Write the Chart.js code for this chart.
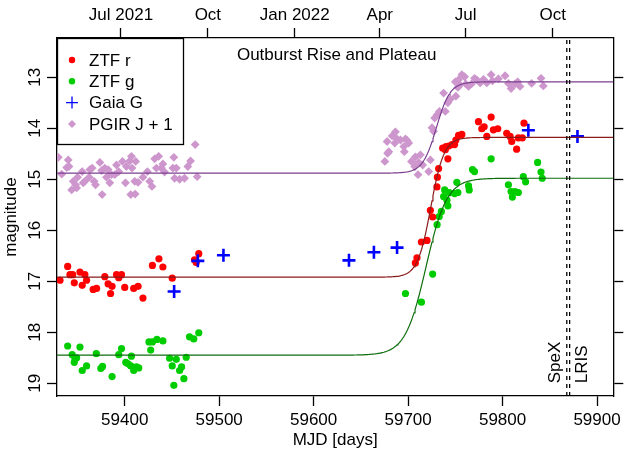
<!DOCTYPE html>
<html>
<head>
<meta charset="utf-8">
<script src="https://cdn.jsdelivr.net/npm/chart.js@4/dist/chart.umd.min.js"></script>
<style>
  html, body { margin: 0; padding: 0; background: #fff; }
  #wrap { width: 625px; height: 454px; }
</style>
</head>
<body>
<div id="wrap"><canvas id="lc" width="625" height="454"></canvas></div>
<script>
// ---- Light curve data (MJD, magnitude) ----
const ztfR_mjd = [59331.5, 59339.6, 59342.0, 59344.9, 59346.6, 59352.6, 59355.0, 59357.8, 59359.6, 59366.6,
  59370.2, 59378.9, 59382.4, 59385.0, 59386.6, 59391.3, 59393.7, 59396.6, 59400.0, 59409.5,
  59414.1, 59419.3, 59429.3, 59436.2, 59440.4, 59450.3, 59473.9, 59475.7, 59478.4,
  59707.7, 59709.4, 59714.1, 59720.0, 59723.6, 59726.0, 59730.5, 59731.0, 59732.3, 59736.6,
  59739.4, 59740.2, 59742.1, 59742.9, 59746.4, 59749.2, 59750.6, 59753.4, 59756.9,
  59774.5, 59778.0, 59780.5, 59783.3, 59787.9, 59790.3, 59794.9, 59804.4, 59808.0, 59809.7,
  59814.9, 59816.7, 59820.9, 59822.7];
const ztfR_mag = [16.98, 16.71, 16.87, 16.87, 17.03, 16.82, 17.08, 16.87, 16.98, 17.16,
  17.14, 16.91, 17.05, 17.24, 17.10, 16.87, 16.93, 16.87, 17.12, 17.14,
  17.10, 17.33, 16.69, 16.56, 16.72, 16.94, 16.58, 16.63, 16.46,
  16.64, 16.54, 16.23, 16.20, 15.61, 15.74, 15.15, 14.96, 14.79, 14.39,
  14.42, 14.36, 14.60, 14.35, 14.32, 14.32, 14.23, 14.14, 14.12,
  13.87, 14.01, 13.97, 14.16, 13.78, 14.03, 14.01, 14.10, 14.16, 14.26,
  14.41, 14.19, 14.19, 13.90];

const ztfG_mjd = [59339.6, 59344.4, 59347.3, 59349.1, 59346.6, 59352.6, 59355.0, 59359.6, 59369.9, 59374.7,
  59376.5, 59386.6, 59393.7, 59396.6, 59401.1, 59403.5, 59407.1, 59406.4, 59409.5, 59412.4,
  59414.8, 59425.7, 59427.5, 59429.3, 59434.1, 59440.4, 59447.5, 59450.3, 59452.0, 59454.6,
  59458.1, 59460.2, 59462.6, 59465.1, 59468.6, 59473.1, 59478.4,
  59697.2, 59714.1, 59726.0, 59730.7, 59732.9, 59735.2, 59737.6, 59738.7, 59741.1, 59742.1,
  59743.6, 59749.2, 59751.6, 59752.7, 59764.0, 59764.7, 59768.2, 59770.3, 59787.9, 59806.2,
  59809.0, 59810.4, 59813.2, 59816.7, 59822.0, 59824.4, 59837.1, 59840.7, 59842.0];
const ztfG_mag = [18.27, 18.44, 18.52, 18.50, 18.59, 18.29, 18.75, 18.66, 18.42, 18.71,
  18.67, 18.87, 18.44, 18.32, 18.59, 18.62, 18.47, 18.66, 18.75, 18.68,
  18.70, 18.19, 18.35, 18.19, 18.14, 18.17, 18.51, 18.66, 19.04, 18.53,
  18.75, 18.68, 18.91, 18.49, 18.09, 18.13, 18.01,
  17.24, 17.41, 16.86, 15.89, 15.73, 15.63, 15.34, 15.21, 15.41, 15.52,
  15.26, 15.28, 15.06, 15.26, 15.13, 15.21, 14.81, 14.85, 14.60, 15.11,
  15.24, 15.35, 15.24, 15.26, 14.95, 15.05, 14.67, 14.86, 14.98];

const gaia_mjd = [59452.3, 59477.4, 59504.5, 59637.4, 59663.8, 59688.3, 59827.3, 59879.3];
const gaia_mag = [17.20, 16.60, 16.49, 16.59, 16.43, 16.34, 14.04, 14.16];

// PGIR J-band magnitudes (shown offset by J_OFFSET)
const J_OFFSET = 1;
const pgir_mjd = [59329.7, 59333.3, 59338.5, 59340.2, 59341.0, 59343.8, 59345.5, 59348.0, 59349.1, 59350.1,
  59355.0, 59356.0, 59357.8, 59362.4, 59363.1, 59365.5, 59367.6, 59369.1, 59373.7, 59375.5,
  59376.1, 59378.9, 59380.7, 59382.4, 59384.2, 59386.0, 59389.5, 59391.3, 59393.7, 59397.6,
  59400.8, 59401.8, 59405.3, 59406.4, 59407.1, 59407.7, 59410.6, 59411.0, 59411.6, 59414.1,
  59419.3, 59424.0, 59426.4, 59428.8, 59431.7, 59433.5, 59435.9, 59438.7, 59440.4, 59442.2,
  59451.0, 59452.0, 59452.8, 59454.6, 59458.1, 59463.3, 59466.8, 59469.7, 59474.6, 59476.7,
  59675.4, 59677.8, 59678.3, 59679.6, 59683.1, 59685.9, 59686.6, 59688.3, 59691.9, 59695.4,
  59696.0, 59697.2, 59698.9, 59700.7, 59703.5, 59707.0, 59707.7, 59710.5, 59711.2, 59713.0,
  59715.4, 59721.8, 59723.6, 59725.3, 59727.0, 59728.1, 59730.5, 59733.1, 59737.6, 59739.4,
  59742.1, 59744.7, 59750.0, 59750.6, 59752.7, 59753.4, 59755.0, 59756.9, 59759.8, 59761.1,
  59764.0, 59767.1, 59770.3, 59772.7, 59776.3, 59779.8, 59783.3, 59787.9, 59789.3, 59795.6,
  59802.7, 59806.2, 59809.0, 59813.2, 59816.0, 59818.5, 59830.8, 59840.7, 59843.1];
const pgir_J = [13.57, 13.90, 13.77, 13.62, 13.75, 14.21, 14.04, 14.11, 14.17, 13.96,
  13.85, 14.07, 14.04, 13.96, 13.81, 13.78, 14.04, 14.11, 13.67, 13.83,
  14.30, 13.78, 13.96, 13.81, 14.07, 13.91, 13.91, 13.72, 13.85, 13.65,
  14.07, 13.75, 13.64, 14.30, 13.55, 13.78, 14.04, 14.29, 13.65, 14.06,
  13.96, 13.85, 14.04, 14.14, 13.60, 13.78, 13.55, 13.78, 13.70, 13.86,
  13.78, 13.57, 13.98, 13.78, 14.00, 13.98, 13.75, 13.64, 13.32, 13.95,
  13.65, 13.26, 13.49, 13.46, 13.15, 13.29, 13.07, 13.21, 13.23, 13.36,
  13.46, 13.21, 13.24, 13.29, 13.65, 13.75, 13.56, 13.91, 13.67, 13.52,
  13.72, 13.85, 13.62, 12.99, 13.06, 12.80, 12.74, 12.67, 12.31, 12.67,
  12.50, 12.43, 12.09, 12.37, 12.20, 12.05, 12.15, 11.95, 11.99, 12.13,
  12.18, 12.13, 12.02, 12.05, 12.11, 12.04, 12.11, 11.95, 12.07, 12.03,
  11.97, 12.12, 12.22, 12.13, 12.09, 12.18, 12.12, 12.02, 12.17];

// ---- Logistic rise fits: quiescent level, plateau level, mid-point MJD, timescale (days) ----
const fitBands   = ['ZTF r', 'ZTF g', 'PGIR J + 1'];
const fitQuiet   = [16.92, 18.45, 13.88];
const fitPlateau = [14.18, 14.98, 12.09];
const fitMid     = [59724, 59719, 59730];
const fitTau     = [7.0, 11.0, 7.3];
const fitOffset  = [0, 0, J_OFFSET];

// ---- Axes ----
const X_MIN = 59328.3, X_MAX = 59917.2;
const MAG_MIN = 12.23, MAG_MAX = 19.25;
const mjdTicks = [59400, 59500, 59600, 59700, 59800, 59900];
const magTicks = [13, 14, 15, 16, 17, 18, 19];
const monthMJD = [59396, 59488, 59580, 59670, 59761, 59853];
const monthLabels = ['Jul 2021', 'Oct', 'Jan 2022', 'Apr', 'Jul', 'Oct'];

// Spectroscopy epochs
const specMJD = [59868, 59871];
const specNames = ['SpeX', 'LRIS'];
const SPEC_LABEL_MAG = 19;

const TITLE = 'Outburst Rise and Plateau';
const FONT_FAMILY = '"Liberation Sans", Arial, Helvetica, sans-serif';
const FS = 17;

const pts = (xs, ys, off = 0) => xs.map((v, i) => ({ x: v, y: ys[i] + off }));

function fitCurve(k) {
  const out = [];
  for (let t = X_MIN; t <= X_MAX + 0.5; t += 1) {
    const f = 1 / (1 + Math.exp(-(t - fitMid[k]) / fitTau[k]));
    out.push({ x: t, y: fitQuiet[k] + (fitPlateau[k] - fitQuiet[k]) * f + fitOffset[k] });
  }
  return out;
}

const fitColors = ['#8B1A1A', '#0E6E0E', '#7B3F8F'];

const datasets = [];
fitBands.forEach((b, k) => {
  datasets.push({
    label: b + ' fit', data: fitCurve(k), showLine: true, borderColor: fitColors[k],
    borderWidth: 1.2, pointRadius: 0, tension: 0, order: 0, clip: 0
  });
});
datasets.push({
  label: 'Gaia G', data: pts(gaia_mjd, gaia_mag), pointStyle: 'cross', pointRadius: 6.5,
  pointBorderWidth: 2.6, pointBorderColor: '#0000FF', pointBackgroundColor: '#0000FF', order: 1
});
datasets.push({
  label: 'ZTF r', data: pts(ztfR_mjd, ztfR_mag), pointStyle: 'circle', pointRadius: 3.6,
  pointBorderWidth: 0, pointBackgroundColor: '#FF0000', pointBorderColor: '#FF0000', order: 2
});
datasets.push({
  label: 'ZTF g', data: pts(ztfG_mjd, ztfG_mag), pointStyle: 'circle', pointRadius: 3.6,
  pointBorderWidth: 0, pointBackgroundColor: '#00CD00', pointBorderColor: '#00CD00', order: 2
});
datasets.push({
  label: 'PGIR J + 1', data: pts(pgir_mjd, pgir_J, J_OFFSET), pointStyle: 'rectRot', pointRadius: 4.4,
  pointBorderWidth: 0, pointBackgroundColor: '#CD96CD', pointBorderColor: '#CD96CD', order: 3
});

const legendOrder = ['ZTF r', 'ZTF g', 'Gaia G', 'PGIR J + 1'];

// Spectroscopy markers, panel title and legend box
const overlay = {
  id: 'overlay',
  afterDatasetsDraw(chart) {
    const { ctx, chartArea: a, scales } = chart;
    const x = scales.x, y = scales.y;
    ctx.save();
    ctx.beginPath();
    ctx.rect(a.left, a.top, a.right - a.left, a.bottom - a.top);
    ctx.clip();
    ctx.strokeStyle = '#000';
    ctx.lineWidth = 1.3;
    ctx.setLineDash([4, 4]);
    specMJD.forEach(m => {
      const px = x.getPixelForValue(m);
      ctx.beginPath();
      ctx.moveTo(px, a.bottom);
      ctx.lineTo(px, a.top);
      ctx.stroke();
    });
    ctx.setLineDash([]);
    ctx.fillStyle = '#000';
    ctx.font = FS + 'px ' + FONT_FAMILY;
    specNames.forEach((name, i) => {
      const px = x.getPixelForValue(specMJD[i]);
      const base = i === 0 ? px - 7 : px + 17.5;
      ctx.save();
      ctx.translate(base, y.getPixelForValue(SPEC_LABEL_MAG));
      ctx.rotate(-Math.PI / 2);
      ctx.textAlign = 'left';
      ctx.textBaseline = 'alphabetic';
      ctx.fillText(name, 0, 0);
      ctx.restore();
    });
    ctx.restore();

    // title
    ctx.save();
    ctx.fillStyle = '#000';
    ctx.font = FS + 'px ' + FONT_FAMILY;
    ctx.textAlign = 'center';
    ctx.textBaseline = 'alphabetic';
    ctx.fillText(TITLE, (a.left + a.right) / 2 + 1.5, a.top + 22);
    ctx.restore();

    // legend
    ctx.save();
    const bx = a.left, by = a.top, bw = 126, bh = 106;
    ctx.fillStyle = '#fff';
    ctx.fillRect(bx, by, bw, bh);
    ctx.strokeStyle = '#000';
    ctx.lineWidth = 1.3;
    ctx.strokeRect(bx + 0.5, by + 0.5, bw, bh);
    ctx.font = FS + 'px ' + FONT_FAMILY;
    ctx.textAlign = 'left';
    ctx.textBaseline = 'middle';
    legendOrder.forEach((lab, i) => {
      const ds = chart.data.datasets.find(d => d.label === lab);
      const cy = by + 22 + i * 21.3;
      const cx = bx + 15;
      ctx.fillStyle = ds.pointBackgroundColor;
      ctx.strokeStyle = ds.pointBorderColor;
      const isCross = ds.pointStyle === 'cross';
      Chart.helpers.drawPoint(ctx, {
        pointStyle: ds.pointStyle, rotation: 0,
        radius: isCross ? 6 : ds.pointRadius - 0.4,
        borderWidth: isCross ? 1.2 : 0
      }, cx, cy);
      ctx.fillStyle = '#000';
      ctx.fillText(lab, bx + 32, cy + 1);
    });
    ctx.restore();
  }
};

const axisCommon = {
  type: 'linear',
  grid: { drawOnChartArea: false, drawTicks: true, tickLength: 10, tickColor: '#000', tickWidth: 1.3 },
  border: { display: true, color: '#000', width: 1.3 }
};

Chart.defaults.font.family = FONT_FAMILY;
Chart.defaults.font.size = FS;
Chart.defaults.color = '#000';

new Chart(document.getElementById('lc'), {
  type: 'scatter',
  data: { datasets },
  options: {
    responsive: false,
    devicePixelRatio: 1,
    animation: false,
    events: [],
    layout: { padding: 0 },
    plugins: { legend: { display: false }, tooltip: { enabled: false }, title: { display: false } },
    scales: {
      x: Object.assign({}, axisCommon, {
        position: 'bottom', min: X_MIN, max: X_MAX,
        afterBuildTicks: s => { s.ticks = mjdTicks.map(v => ({ value: v })); },
        afterFit: s => { s.height = 58; },
        ticks: { padding: 4, maxRotation: 0, autoSkip: false, color: '#000', callback: v => String(v) },
        title: { display: true, text: 'MJD [days]', color: '#000', padding: { top: 0, bottom: 3 } }
      }),
      xTop: Object.assign({}, axisCommon, {
        position: 'top', min: X_MIN, max: X_MAX,
        afterBuildTicks: s => { s.ticks = monthMJD.map(v => ({ value: v })); },
        afterFit: s => { s.height = 38; },
        ticks: { padding: 2, maxRotation: 0, autoSkip: false, color: '#000',
                 callback: v => monthLabels[monthMJD.indexOf(v)] }
      }),
      y: Object.assign({}, axisCommon, {
        position: 'left', reverse: true, min: MAG_MIN, max: MAG_MAX,
        afterBuildTicks: s => { s.ticks = magTicks.map(v => ({ value: v })); },
        afterFit: s => { s.width = 57; },
        ticks: { minRotation: 90, maxRotation: 90, crossAlign: 'center', padding: 2.5, autoSkip: false,
                 color: '#000', callback: v => String(v) },
        title: { display: true, text: 'magnitude', color: '#000', padding: { top: 1, bottom: 0 } }
      }),
      yRight: Object.assign({}, axisCommon, {
        position: 'right', reverse: true, min: MAG_MIN, max: MAG_MAX,
        afterBuildTicks: s => { s.ticks = magTicks.map(v => ({ value: v })); },
        afterFit: s => { s.width = 9; },
        ticks: { display: false }
      })
    }
  },
  plugins: [overlay]
});
</script>
</body>
</html>
